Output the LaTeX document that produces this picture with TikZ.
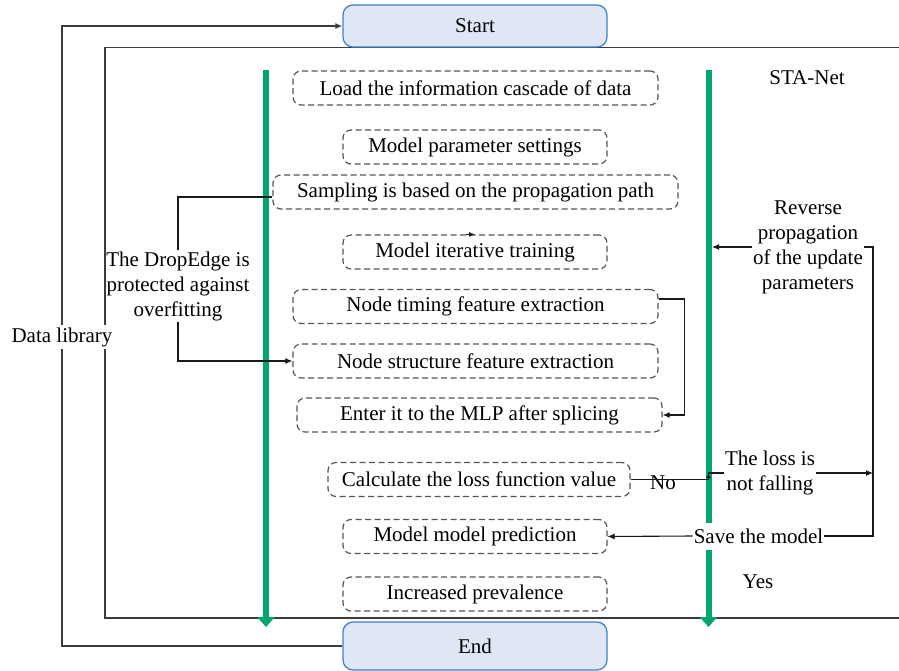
\documentclass[tikz,border=0pt]{standalone}
\usepackage{fontspec}
\setmainfont{Liberation Serif}
\usetikzlibrary{arrows.meta}
\definecolor{grn}{RGB}{0,166,110}
\definecolor{boxfill}{RGB}{223,230,244}
\definecolor{boxline}{RGB}{58,128,200}
\definecolor{dashgray}{RGB}{85,85,85}
\definecolor{framegray}{RGB}{60,60,60}
\begin{document}
\begin{tikzpicture}[x=1pt,y=-1pt, font=\fontsize{21}{25}\selectfont,
  stepbox/.style={draw=dashgray, dash pattern=on 6pt off 3.5pt, rounded corners=8pt, line width=1.2pt, inner sep=0pt, minimum height=34pt},
  term/.style={draw=boxline, fill=boxfill, rounded corners=10pt, line width=1.2pt, minimum width=264pt, minimum height=42pt, inner sep=0pt},
  conn/.style={line width=1.1pt, draw=black!90},
  frame/.style={line width=1.4pt, draw=framegray},
  tip/.style={-{Latex[length=7pt,width=6pt]}},
  lbl/.style={align=center, inner sep=1pt},
  gbar/.style={draw=grn, line width=6pt, -{Triangle[length=10pt,width=17pt]}}]
\useasboundingbox (0,0) rectangle (899,671);

% inner frame (STA-Net)
\draw[frame] (905,47.5) -- (105,47.5) -- (105,618) -- (905,618);

% green bars
\coordinate (gLt) at (266,70);
\coordinate (gLb) at (266,627);
\coordinate (gRt) at (708.5,70);
\coordinate (gRb) at (708.5,627);
\draw[gbar] (gLt) -- (gLb);
\draw[gbar] (gRt) -- (gRb);

% terminals
\node[term] (start) at (475,26) {Start};
\node[term, minimum height=48pt] (end) at (475,646) {End};

% steps
\node[stepbox, minimum width=365pt] (load) at (475.5,88) {Load the information cascade of data};
\node[stepbox, minimum width=264pt] (param) at (475,147) {Model parameter settings};
\node[stepbox, minimum width=405pt] (samp) at (475.5,192) {Sampling is based on the propagation path};
\node[stepbox, minimum width=264pt] (iter) at (475,252) {Model iterative training};
\node[stepbox, minimum width=365pt] (timing) at (475.5,306.5) {Node timing feature extraction};
\node[stepbox, minimum width=365pt] (struct) at (475.5,361) {Node structure feature extraction};
\node[stepbox, minimum width=365pt] (mlp) at (479.5,415) {Enter it to the MLP after splicing};
\node[stepbox, minimum width=302pt] (calc) at (479,479.5) {Calculate the loss function value};
\node[stepbox, minimum width=264pt] (pred) at (475,536.5) {Model model prediction};
\node[stepbox, minimum width=264pt] (prev) at (475,594) {Increased prevalence};

% labels
\node[lbl, fill=white, inner sep=2pt] (datalib) at (62,337) {Data library};
\node[lbl] (drop) at (178,286) {The DropEdge is\\protected against\\overfitting};
\node[lbl] (sta) at (807,78) {STA-Net};
\node[lbl] (rev) at (808,247) {Reverse\\propagation\\of the update\\parameters};
\node[lbl] (loss) at (770,473) {The loss is\\not falling};
\node[lbl] (no) at (663,483) {No};
\node[lbl, fill=white, minimum height=27pt] (save) at (758.5,536) {Save the model};
\node[lbl] (yes) at (758,582) {Yes};

% data library loop
\draw[frame, tip] (datalib.north) |- (start.west);
\draw[frame] (datalib.south) |- (end.west);

% DropEdge
\coordinate (sampout) at ([yshift=-5pt]samp.west);
\draw[conn] (sampout) -| (drop.north);
\draw[conn, tip] (drop.south) |- (struct.west);

% splicing
\coordinate (tout) at ([yshift=7.5pt]timing.east);
\coordinate (tbend) at ([xshift=26pt]tout);
\draw[conn, tip] (tout) -- (tbend) |- (mlp.east);

% small arrow on iterative training
\draw[conn, -{Latex[length=6pt,width=5pt]}] ([xshift=-9pt]iter.north) -- (iter.north);

% loss check
\coordinate (c1) at (calc.east -| gRt);
\coordinate (c2) at (c1 |- loss.west);
\draw[conn] (calc.east) -- (c1) -- (c2) -- (loss.west);
\draw[conn, -{Latex[length=5pt,width=5pt]}] (c1) -- (c2);

% feedback
\coordinate (brk) at ([xshift=9pt]rev.east);
\draw[conn] (save.east) -| (brk) -- (rev.east);
\draw[conn, tip] (loss.east) -- (loss.east -| brk);
\draw[conn, tip] (rev.west) -- ([xshift=3.5pt]rev.west -| gRt);
\draw[conn, tip] (save.west) -- (pred.east);
\end{tikzpicture}
\end{document}
